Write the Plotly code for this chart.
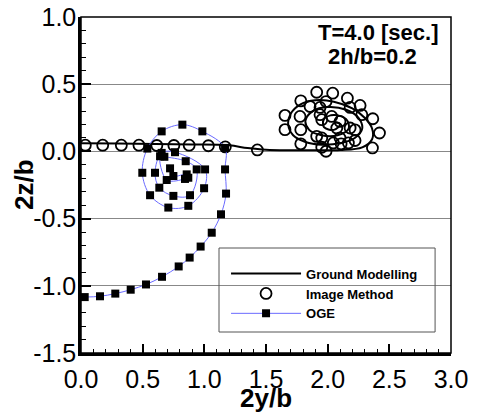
import plotly.graph_objects as go

# ---------------- data ----------------
ground_y = [0.0, 0.3, 0.6, 0.9, 1.2, 1.35, 1.5, 1.7, 1.9, 2.1, 2.28, 2.36, 2.36, 2.3, 2.2, 2.05, 1.9, 1.78,
            1.70, 1.68, 1.72, 1.82, 1.95, 2.1, 2.22, 2.28, 2.25, 2.15, 2.0, 1.88, 1.82, 1.85, 1.95, 2.08,
            2.17, 2.15, 2.05, 1.97, 1.97, 2.05, 2.1, 2.05]
ground_z = [0.06, 0.058, 0.055, 0.052, 0.045, 0.025, 0.012, 0.008, 0.008, 0.01, 0.03, 0.09, 0.17, 0.25, 0.32,
            0.37, 0.38, 0.35, 0.28, 0.2, 0.12, 0.07, 0.05, 0.06, 0.1, 0.17, 0.25, 0.31, 0.33, 0.3, 0.23, 0.16,
            0.12, 0.12, 0.17, 0.24, 0.27, 0.24, 0.18, 0.16, 0.2, 0.22]

image_y = [0.035, 0.176, 0.327, 0.470, 0.615, 0.753, 0.877, 1.033, 1.170, 1.430,
           1.987, 2.363, 2.420, 2.366, 2.263, 2.160, 2.041, 1.911, 1.782, 1.654, 1.654, 1.782, 1.952,
           2.109, 2.222,
           2.277, 2.182, 1.987, 1.857, 1.776, 1.782, 1.911, 2.046, 2.168, 2.222,
           2.100, 1.938, 1.938, 1.952, 1.952, 2.074, 2.182, 2.100, 2.033]
image_z = [0.046, 0.046, 0.046, 0.046, 0.044, 0.044, 0.046, 0.042, 0.033, 0.011,
           0.001, 0.026, 0.137, 0.243, 0.342, 0.396, 0.433, 0.440, 0.376, 0.268, 0.162, 0.056, 0.031,
           0.056, 0.081,
           0.273, 0.327, 0.371, 0.334, 0.260, 0.162, 0.112, 0.063, 0.063, 0.160,
           0.223, 0.327, 0.273, 0.236, 0.100, 0.174, 0.174, 0.100, 0.260]

oge_y = [0.030, 0.154, 0.278, 0.403, 0.527, 0.657, 0.792, 0.881, 0.970, 1.060, 1.135, 1.176, 1.168, 1.168,
         0.984, 0.822, 0.654, 0.538, 0.497, 0.560, 0.708, 0.870, 0.998, 1.006,
         0.762, 0.654, 0.600, 0.635, 0.749, 0.884, 0.938,
         0.849, 0.676, 0.641, 0.695, 0.843, 0.870, 0.857, 0.749, 0.722]
oge_z = [-1.084, -1.078, -1.058, -1.029, -0.990, -0.933, -0.856, -0.790, -0.708, -0.605, -0.468, -0.314,
         -0.134, 0.026, 0.149, 0.199, 0.149, 0.021, -0.159, -0.326, -0.418, -0.405, -0.274, -0.134,
         -0.006, -0.011, -0.159, -0.270, -0.331, -0.326, -0.134,
         -0.073, -0.040, -0.036, -0.213, -0.205, -0.196, -0.171, -0.183, -0.126]

x_ticks = [0.0, 0.5, 1.0, 1.5, 2.0, 2.5, 3.0]
x_labels = ["0.0", "0.5", "1.0", "1.5", "2.0", "2.5", "3.0"]
y_ticks = [-1.5, -1.0, -0.5, 0.0, 0.5, 1.0]
y_labels = ["-1.5", "-1.0", "-0.5", "0.0", "0.5", "1.0"]

FONT = "Arial, Liberation Sans, sans-serif"

fig = go.Figure()
fig.add_trace(go.Scatter(x=ground_y, y=ground_z, mode="lines", name="Ground Modelling",
                         line=dict(color="black", width=2, shape="spline", smoothing=1.0)))
fig.add_trace(go.Scatter(x=image_y, y=image_z, mode="markers", name="Image Method",
                         marker=dict(symbol="circle-open", size=11, color="black",
                                     line=dict(color="black", width=1.8))))
fig.add_trace(go.Scatter(x=oge_y, y=oge_z, mode="lines+markers", name="OGE",
                         line=dict(color="#6a6aff", width=1, shape="spline", smoothing=1.0),
                         marker=dict(symbol="square", size=8, color="black")))

# the page body keeps an 8px margin, so the figure is offset to compensate
fig.update_layout(
    width=470, height=412, autosize=False,
    margin=dict(l=73, r=27, t=9, b=67, autoexpand=False),
    paper_bgcolor="white", plot_bgcolor="white",
    font=dict(family=FONT, color="black"),
    showlegend=True,
    legend=dict(x=0.392, y=0.281, xanchor="left", yanchor="top",
                bgcolor="rgba(0,0,0,0)", borderwidth=0, itemwidth=70,
                font=dict(family=FONT, size=13, color="black", weight="bold"),
                tracegroupgap=0),
    xaxis=dict(range=[0, 3], tickvals=x_ticks, ticktext=x_labels, ticks="inside", ticklen=9,
               tickwidth=2, tickcolor="black", showgrid=False, zeroline=False, automargin=False,
               showline=True, linewidth=2.5, linecolor="black", ticklabelstandoff=2,
               ticklabeloverflow="allow",
               tickfont=dict(family=FONT, size=25, color="black"),
               minor=dict(dtick=0.1, ticks="inside", ticklen=4.5, tickwidth=1, tickcolor="black",
                          showgrid=False)),
    yaxis=dict(range=[-1.5, 1.0], tickvals=y_ticks, ticktext=y_labels, ticks="inside", ticklen=10,
               tickwidth=2, tickcolor="black", showgrid=True, gridcolor="#888888", gridwidth=1,
               zeroline=False, showline=True, linewidth=2.5, linecolor="black", automargin=False,
               ticklabelstandoff=-3, ticklabeloverflow="allow",
               tickfont=dict(family=FONT, size=25, color="black"),
               minor=dict(dtick=0.1, ticks="inside", ticklen=5, tickwidth=1, tickcolor="black",
                          showgrid=False)),
    shapes=[
        dict(type="rect", xref="paper", yref="paper", x0=0, x1=1, y0=0, y1=1,
             line=dict(color="black", width=1.5), fillcolor="rgba(0,0,0,0)", layer="above"),
        dict(type="rect", xref="paper", yref="paper", x0=0.373, x1=0.957, y0=0.0625, y1=0.3125,
             line=dict(color="#555555", width=1), fillcolor="rgba(0,0,0,0)", layer="above"),
    ],
    annotations=[
        dict(text="<b>2y/b</b>", xref="paper", yref="paper", x=0.5, y=-0.134, showarrow=False,
             xanchor="center", yanchor="middle", font=dict(family=FONT, size=26, color="black")),
        dict(text="<b>2z/b</b>", xref="paper", yref="paper", x=-0.154, y=0.5, showarrow=False,
             xanchor="center", yanchor="middle", textangle=-90,
             font=dict(family=FONT, size=26, color="black")),
        dict(text="<b>T=4.0 [sec.]</b>", xref="paper", yref="paper", x=0.803, y=0.955,
             showarrow=False, xanchor="center", yanchor="middle",
             font=dict(family=FONT, size=22, color="black")),
        dict(text="<b>2h/b=0.2</b>", xref="paper", yref="paper", x=0.789, y=0.881,
             showarrow=False, xanchor="center", yanchor="middle",
             font=dict(family=FONT, size=22, color="black")),
    ],
)

fig.write_html("out.html")
